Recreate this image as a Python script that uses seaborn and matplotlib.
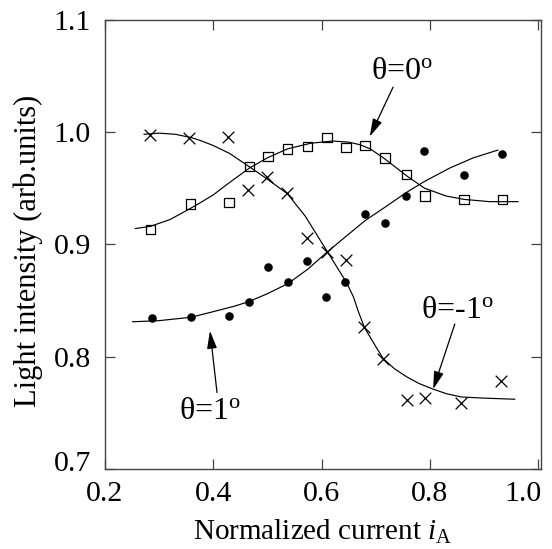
import matplotlib
matplotlib.use("Agg")
import matplotlib.pyplot as plt
import matplotlib.transforms as mtransforms
import seaborn as sns
import pandas as pd

# ---- measured data -------------------------------------------------------
# theta = -1 deg (crosses)
x_m1 = [0.284, 0.356, 0.428, 0.465, 0.499, 0.537, 0.573, 0.610, 0.645,
        0.679, 0.714, 0.757, 0.791, 0.858, 0.932]
y_m1 = [0.997, 0.995, 0.996, 0.948, 0.960, 0.946, 0.906, 0.893, 0.886,
        0.826, 0.798, 0.761, 0.763, 0.759, 0.778]
# theta = 0 deg (open squares)
x_0 = [0.284, 0.358, 0.429, 0.467, 0.501, 0.537, 0.574, 0.610, 0.645,
       0.680, 0.717, 0.757, 0.791, 0.863, 0.934]
y_0 = [0.913, 0.936, 0.937, 0.969, 0.978, 0.985, 0.987, 0.995, 0.986,
       0.988, 0.977, 0.962, 0.943, 0.940, 0.940]
# theta = 1 deg (filled dots)
x_p1 = [0.287, 0.359, 0.430, 0.466, 0.501, 0.538, 0.573, 0.608, 0.643,
        0.680, 0.718, 0.756, 0.789, 0.863, 0.934]
y_p1 = [0.834, 0.835, 0.836, 0.849, 0.880, 0.866, 0.885, 0.853, 0.866,
        0.927, 0.919, 0.943, 0.983, 0.962, 0.980]

# ---- fitted curves ------------------------------------------------------
cx_m1 = [0.272, 0.30, 0.33, 0.36, 0.376, 0.40, 0.43, 0.467, 0.50, 0.537,
         0.57, 0.597, 0.61, 0.646, 0.659, 0.668, 0.679, 0.70, 0.714, 0.735,
         0.757, 0.78, 0.806, 0.83, 0.858, 0.90, 0.957]
cy_m1 = [0.998, 0.999, 0.998, 0.995, 0.9925, 0.988, 0.981, 0.969, 0.958, 0.945,
         0.925, 0.904, 0.894, 0.866, 0.853, 0.840, 0.826, 0.809, 0.798, 0.789,
         0.782, 0.776, 0.771, 0.767, 0.764, 0.763, 0.762]
cx_0 = [0.256, 0.284, 0.32, 0.358, 0.376, 0.40, 0.43, 0.467, 0.50, 0.537,
        0.58, 0.62, 0.65, 0.671, 0.69, 0.717, 0.757, 0.79, 0.83, 0.863,
        0.91, 0.963]
cy_0 = [0.914, 0.916, 0.922, 0.932, 0.937, 0.944, 0.955, 0.968, 0.977, 0.985,
        0.990, 0.992, 0.991, 0.9887, 0.985, 0.976, 0.961, 0.950, 0.943, 0.940,
        0.938, 0.938]
cx_p1 = [0.251, 0.30, 0.359, 0.40, 0.44, 0.466, 0.50, 0.538, 0.575, 0.610,
         0.65, 0.68, 0.72, 0.756, 0.79, 0.837, 0.88, 0.926]
cy_p1 = [0.831, 0.832, 0.835, 0.840, 0.845, 0.849, 0.856, 0.865, 0.878, 0.893,
         0.909, 0.921, 0.934, 0.946, 0.956, 0.968, 0.977, 0.984]

x_ticks = [0.2, 0.4, 0.6, 0.8, 1.0]
y_ticks = [0.7, 0.8, 0.9, 1.0, 1.1]
x_label = r"Normalized current $\mathit{i}_{\mathrm{A}}$"
y_label = "Light intensity (arb.units)"

# ---- style --------------------------------------------------------------
sns.set_theme(style="ticks")
plt.rcParams["font.family"] = ["Liberation Serif", "DejaVu Serif"]
plt.rcParams["mathtext.fontset"] = "custom"
plt.rcParams["mathtext.rm"] = "Liberation Serif"
plt.rcParams["mathtext.it"] = "Liberation Serif:italic"

fig = plt.figure(figsize=(5.52, 5.49), dpi=100)
ax = fig.add_axes([0.190, 0.146, 0.790, 0.818])

ink = "black"
frame = "#444444"
lw_curve = 0.85

for cx, cy in [(cx_m1, cy_m1), (cx_0, cy_0), (cx_p1, cy_p1)]:
    df = pd.DataFrame({"x": cx, "y": cy})
    sns.lineplot(data=df, x="x", y="y", ax=ax, sort=False, estimator=None,
                 color=ink, linewidth=lw_curve)

df_m1 = pd.DataFrame({"x": x_m1, "y": y_m1})
df_0 = pd.DataFrame({"x": x_0, "y": y_0})
df_p1 = pd.DataFrame({"x": x_p1, "y": y_p1})

sns.scatterplot(data=df_m1, x="x", y="y", ax=ax, marker="x", s=70,
                color=ink, linewidth=0.9)
sns.scatterplot(data=df_0, x="x", y="y", ax=ax, marker="s", s=45,
                color=ink, edgecolor=ink, linewidth=0.9)
ax.collections[-1].set_facecolor("none")
sns.scatterplot(data=df_p1, x="x", y="y", ax=ax, marker="o", s=38,
                color=ink, edgecolor=ink, linewidth=0)

ax.set_xlim(0.2, 1.005)
ax.set_ylim(0.7, 1.1)
ax.set_xticks(x_ticks)
ax.set_yticks(y_ticks)
ax.set_xticklabels([f"{v:.1f}" for v in x_ticks])
ax.set_yticklabels([f"{v:.1f}" for v in y_ticks])
ax.tick_params(direction="in", length=7, width=0.9, top=True, right=True,
               labelsize=21.5, colors=frame, labelcolor=ink)
ax.tick_params(axis="x", pad=9)
ax.tick_params(axis="y", pad=10)
for sp in ax.spines.values():
    sp.set_visible(True)
    sp.set_color(frame)
    sp.set_linewidth(1.0)

# nudge end labels as in the reference
last_x = ax.get_xticklabels()[-1]
last_x.set_transform(last_x.get_transform() +
                     mtransforms.ScaledTranslation(-15 / 100, 0, fig.dpi_scale_trans))
first_y = ax.get_yticklabels()[0]
first_y.set_transform(first_y.get_transform() +
                      mtransforms.ScaledTranslation(0, 8 / 100, fig.dpi_scale_trans))

ax.set_xlabel(x_label, fontsize=21, color=ink)
ax.xaxis.label.set_va("baseline")
ax.xaxis.set_label_coords(0.5, -0.158)
ax.set_ylabel(y_label, fontsize=22, color=ink)
ax.yaxis.set_label_coords(-0.142, 0.4855)

ann = dict(fontsize=23, color=ink, ha="center", va="baseline")
arrow = dict(arrowstyle="-|>,head_length=0.9,head_width=0.25", color=ink,
             lw=0.9, shrinkA=0, shrinkB=0)
ax.annotate("", xy=(0.689, 0.996), xytext=(0.732, 1.040), arrowprops=arrow)
ax.text(0.748, 1.047, r"θ=0$^{\mathrm{o}}$", **ann)
ax.annotate("", xy=(0.394, 0.823), xytext=(0.407, 0.768), arrowprops=arrow)
ax.text(0.394, 0.744, r"θ=1$^{\mathrm{o}}$", **ann)
ax.annotate("", xy=(0.806, 0.771), xytext=(0.846, 0.829), arrowprops=arrow)
ax.text(0.851, 0.834, r"θ=-1$^{\mathrm{o}}$", **ann)

fig.savefig("out.png", dpi=100)
